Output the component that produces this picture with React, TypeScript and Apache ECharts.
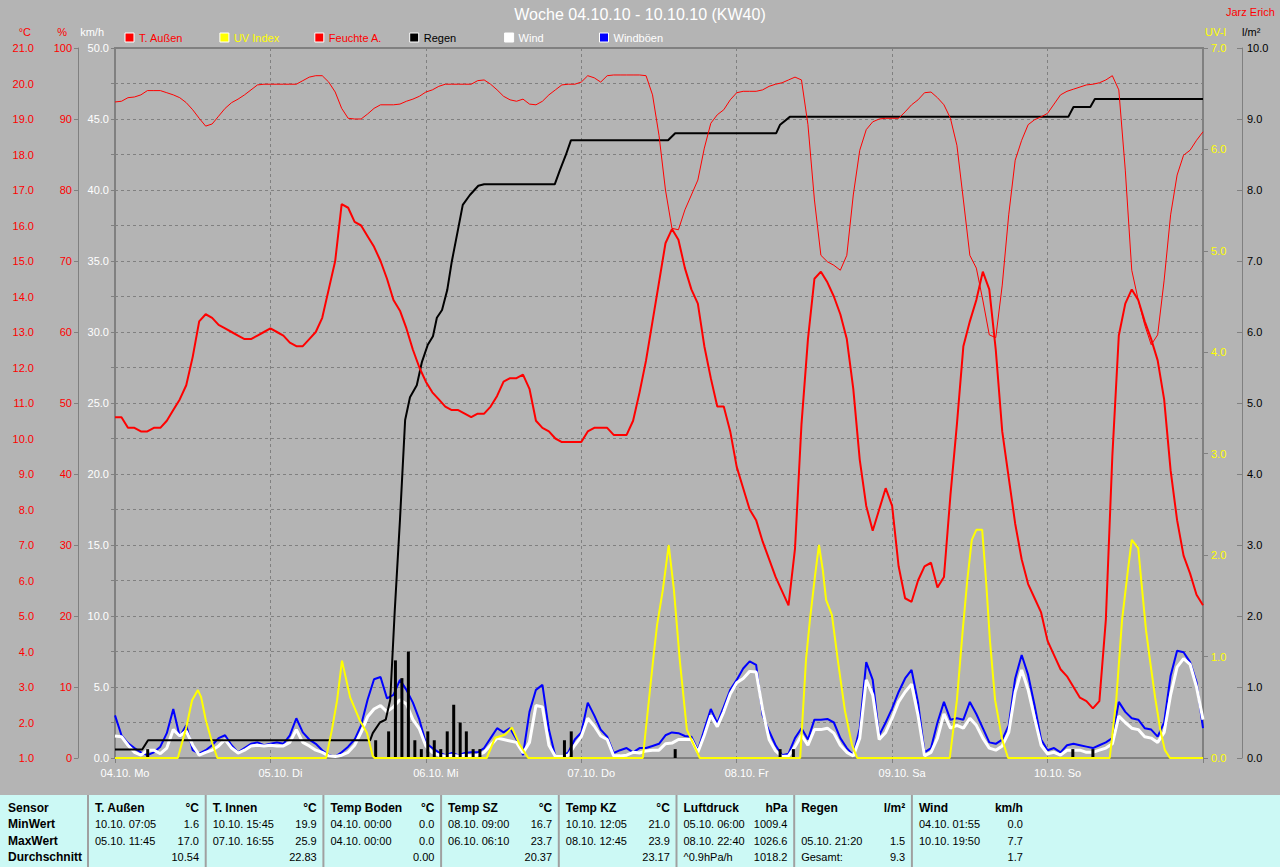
import { useEffect, useRef } from "react";
import * as echarts from "echarts";

// x axis: hours since 04.10. 00:00 (0 .. 168)
const dayLabels = ["04.10. Mo", "05.10. Di", "06.10. Mi", "07.10. Do", "08.10. Fr", "09.10. Sa", "10.10. So"];

// hourly values, h0 .. h168
const tempAussen = [
  10.6, 10.6, 10.3, 10.3, 10.2, 10.2, 10.3, 10.3, 10.5, 10.8, 11.1, 11.5, 12.3, 13.3, 13.5, 13.4, 13.2, 13.1, 13.0, 12.9, 12.8, 12.8, 12.9, 13.0,
  13.1, 13.0, 12.9, 12.7, 12.6, 12.6, 12.8, 13.0, 13.4, 14.2, 15.0, 16.6, 16.5, 16.1, 16.0, 15.7, 15.4, 15.0, 14.5, 13.9, 13.6, 13.1, 12.5, 12.0,
  11.6, 11.3, 11.1, 10.9, 10.8, 10.8, 10.7, 10.6, 10.7, 10.7, 10.9, 11.2, 11.6, 11.7, 11.7, 11.8, 11.4, 10.5, 10.3, 10.2, 10.0, 9.9, 9.9, 9.9,
  9.9, 10.2, 10.3, 10.3, 10.3, 10.1, 10.1, 10.1, 10.5, 11.3, 12.2, 13.3, 14.4, 15.5, 15.9, 15.6, 14.8, 14.2, 13.8, 12.6, 11.7, 10.9, 10.9, 10.2,
  9.2, 8.6, 8.0, 7.7, 7.1, 6.6, 6.1, 5.7, 5.3, 6.9, 10.4, 12.8, 14.5, 14.7, 14.4, 14.0, 13.5, 12.8, 11.4, 9.4, 8.1, 7.4, 8.0, 8.6,
  8.1, 6.4, 5.5, 5.4, 6.0, 6.4, 6.5, 5.8, 6.1, 8.4, 10.4, 12.6, 13.3, 13.9, 14.7, 14.2, 12.5, 10.2, 8.9, 7.6, 6.6, 5.9, 5.5, 5.1,
  4.3, 3.9, 3.5, 3.3, 3.0, 2.7, 2.6, 2.4, 2.6, 4.9, 9.5, 12.9, 13.8, 14.2, 13.9, 13.3, 12.8, 12.2, 11.1, 9.1, 7.7, 6.7, 6.2, 5.6,
  5.3,
];

const feuchteAussen = [
  92.4, 92.5, 93.0, 93.1, 93.4, 94.0, 94.0, 94.0, 93.7, 93.4, 93.0, 92.3, 91.3, 90.1, 89.0, 89.3, 90.4, 91.5, 92.3, 92.8, 93.4, 94.1, 94.8, 94.9,
  94.9, 94.9, 94.9, 94.9, 94.9, 95.4, 95.9, 96.1, 96.1, 95.2, 93.8, 91.5, 90.1, 90.0, 90.0, 90.7, 91.5, 92.0, 92.0, 92.0, 92.1, 92.5, 92.8, 93.2,
  93.8, 94.1, 94.6, 94.9, 94.9, 94.9, 94.9, 94.9, 95.4, 95.5, 94.9, 94.1, 93.2, 92.7, 92.5, 92.8, 92.1, 92.0, 92.5, 93.4, 94.1, 94.8, 94.9, 94.9,
  95.2, 96.1, 95.8, 95.2, 96.1, 96.2, 96.2, 96.2, 96.2, 96.2, 96.1, 93.4, 87.7, 80.0, 74.6, 74.4, 77.2, 79.3, 81.4, 85.9, 89.4, 90.6, 91.3, 92.7,
  93.7, 93.9, 93.9, 93.9, 94.1, 94.6, 94.9, 95.1, 95.5, 95.9, 95.5, 89.2, 78.6, 70.8, 69.9, 69.4, 68.7, 70.8, 79.3, 85.6, 88.5, 89.6, 90.0, 90.1,
  90.1, 90.1, 91.0, 92.0, 92.7, 93.7, 93.8, 93.0, 92.0, 90.1, 86.3, 78.6, 70.8, 69.0, 64.5, 59.6, 59.2, 66.6, 76.5, 84.2, 87.0, 89.2, 89.9, 90.3,
  90.8, 92.1, 93.4, 93.9, 94.2, 94.5, 94.8, 94.9, 95.1, 95.5, 96.1, 94.1, 82.8, 68.7, 64.5, 61.0, 58.2, 59.6, 67.3, 76.5, 82.1, 84.9, 85.6, 87.0,
  88.2,
];

const wind = [
  1.55, 1.5, 0.9, 0.4, 0.2, 0.55, 0.55, 0.3, 0.7, 2.0, 1.55, 1.9, 0.9, 0.2, 0.4, 0.55, 0.85, 1.3, 0.7, 0.35, 0.55, 0.85, 0.9, 0.85,
  0.9, 0.85, 0.85, 1.1, 2.0, 1.1, 0.85, 0.55, 0.4, 0.15, 0.1, 0.2, 0.4, 0.9, 1.8, 2.9, 3.45, 3.7, 3.25, 3.6, 4.1, 3.8, 2.7, 2.05,
  0.85, 0.4, 0.2, 0.15, 0.2, 0.15, 0.2, 0.15, 0.2, 0.4, 0.9, 1.4, 1.3, 1.2, 1.1, 0.35, 1.1, 3.7, 3.6, 0.9, 0.1, 0.1, 0.2, 0.9,
  1.5, 2.8, 2.25, 1.55, 1.3, 0.15, 0.15, 0.2, 0.4, 0.35, 0.5, 0.55, 0.55, 1.0, 1.05, 1.3, 1.3, 1.3, 0.4, 1.6, 3.0, 2.2, 3.25, 4.5,
  5.3, 5.6, 6.1, 6.05, 3.4, 1.3, 0.5, 0.1, 0.15, 0.8, 1.6, 0.9, 2.0, 2.0, 2.1, 1.75, 0.9, 0.4, 0.15, 1.4, 5.5, 4.45, 1.3, 1.8,
  2.8, 3.95, 4.65, 5.2, 3.0, 0.15, 0.4, 1.4, 3.1, 2.1, 2.3, 2.1, 2.8, 2.3, 1.4, 0.7, 0.55, 0.85, 1.8, 4.65, 6.2, 4.8, 2.8, 0.9,
  0.3, 0.4, 0.2, 0.55, 0.55, 0.55, 0.4, 0.4, 0.55, 0.7, 1.0, 2.95, 2.5, 2.1, 2.0, 1.5, 1.4, 1.1, 1.8, 4.45, 6.4, 7.0, 6.6, 5.0,
  2.7,
];

const windboeen = [
  3.0, 1.6, 1.05, 0.7, 0.4, 0.2, 0.4, 0.8, 1.75, 3.45, 1.5, 2.3, 0.55, 0.3, 0.55, 0.9, 1.4, 1.6, 0.9, 0.4, 0.7, 1.0, 1.1, 0.9,
  1.0, 1.1, 1.0, 1.6, 2.8, 1.8, 1.3, 1.0, 0.55, 0.2, 0.1, 0.4, 0.8, 1.3, 2.3, 4.1, 5.55, 5.7, 4.2, 4.45, 5.5, 4.8, 3.9, 2.7,
  1.05, 0.7, 0.4, 0.2, 0.35, 0.2, 0.35, 0.4, 0.4, 0.7, 1.4, 2.1, 1.8, 2.1, 1.3, 0.2, 3.25, 4.8, 5.15, 2.0, 0.1, 0.1, 0.4, 1.3,
  1.8, 3.9, 3.0, 2.0, 1.5, 0.35, 0.55, 0.7, 0.4, 0.7, 0.7, 0.85, 1.0, 1.6, 1.8, 1.75, 1.55, 1.5, 0.55, 2.0, 3.45, 2.45, 3.6, 4.8,
  5.5, 6.3, 6.8, 6.55, 3.0, 1.9, 0.9, 0.2, 0.3, 1.4, 2.1, 1.3, 2.7, 2.7, 2.75, 2.5, 1.4, 0.7, 0.2, 2.1, 6.75, 5.5, 1.6, 2.5,
  3.5, 4.65, 5.6, 6.2, 3.9, 0.4, 0.7, 2.5, 3.95, 2.7, 2.8, 2.7, 3.95, 3.1, 2.1, 1.1, 1.0, 1.3, 2.3, 5.6, 7.25, 5.85, 3.7, 1.3,
  0.55, 0.7, 0.4, 0.9, 1.0, 0.9, 0.8, 0.7, 0.9, 1.1, 1.4, 3.95, 3.25, 2.8, 2.7, 2.1, 2.0, 1.5, 2.5, 5.8, 7.55, 7.45, 6.75, 5.35,
  2.1,
];

// [hour, UV index]
const uvIndex = [
  [0, 0], [9.7, 0], [11, 0.3], [11.9, 0.57], [12.8, 0.67], [13.3, 0.6], [14, 0.38], [15, 0.15], [15.8, 0],
  [32.6, 0], [33.5, 0.28], [34.3, 0.57], [35.05, 0.96], [36.3, 0.6], [37.8, 0.37], [38.9, 0.25], [39.8, 0.02], [40.1, 0],
  [57.4, 0], [58.7, 0.2], [60.2, 0.23], [61.3, 0.3], [62.5, 0.13], [63.8, 0],
  [81.5, 0], [83.1, 0.97], [83.7, 1.31], [84.6, 1.66], [85.5, 2.1], [86.3, 1.66], [87.2, 0.97], [88.3, 0.28], [90.3, 0],
  [105.8, 0], [106.7, 0.97], [107.3, 1.36], [108.1, 1.8], [108.7, 2.1], [109.3, 1.85], [109.8, 1.56], [110.7, 1.41], [111.6, 0.97], [112.7, 0.47], [113.8, 0.13], [114.6, 0],
  [128.9, 0], [130.0, 0.57], [130.9, 1.26], [131.6, 1.75], [132.3, 2.15], [133.0, 2.25], [133.9, 2.25], [134.5, 1.75], [135.1, 1.16], [135.9, 0.57], [137.0, 0.18], [137.9, 0],
  [153.6, 0], [154.6, 0.57], [155.5, 1.36], [156.4, 1.85], [157.0, 2.15], [158.0, 2.07], [158.6, 1.66], [159.2, 1.26], [159.8, 0.97], [160.6, 0.6], [161.4, 0.28], [162.1, 0.08], [162.9, 0], [168, 0],
];

// hourly rain amounts [hour, l/m²]
const regenStunde = [
  [5.05, 0.125], [40.25, 0.25], [42.25, 0.375], [43.3, 1.375], [44.3, 1.125], [45.3, 1.5], [46.3, 0.25], [47.3, 0.125],
  [48.3, 0.375], [49.3, 0.25], [50.3, 0.125], [51.3, 0.375], [52.3, 0.75], [53.3, 0.5], [54.25, 0.375], [55.3, 0.125],
  [56.35, 0.125], [69.4, 0.25], [70.45, 0.375], [86.5, 0.125], [102.7, 0.125], [104.75, 0.125], [147.9, 0.125], [151.0, 0.125],
];

// cumulative rain [hour, l/m²]
const regenSumme = [
  [0, 0.12], [4.2, 0.12], [5.1, 0.25], [39.4, 0.25], [39.8, 0.35], [40.9, 0.5], [41.8, 0.54], [42.5, 0.82], [43.2, 2.08],
  [44.0, 3.35], [44.8, 4.76], [45.55, 5.08], [46.6, 5.25], [47.4, 5.58], [48.3, 5.82], [49.1, 5.94], [49.7, 6.2], [50.5, 6.31],
  [51.3, 6.59], [52.0, 6.99], [53.0, 7.46], [53.7, 7.79], [54.8, 7.93], [56.1, 8.06], [57.0, 8.08], [67.9, 8.08], [68.7, 8.28],
  [69.6, 8.49], [70.4, 8.7], [85.4, 8.7], [86.5, 8.8], [102.1, 8.8], [102.7, 8.92], [104.2, 9.03], [147.2, 9.03], [148.0, 9.17],
  [150.6, 9.17], [151.3, 9.28], [168, 9.28],
];

const legendItems = [
  { name: "T. Außen", fill: "#ff0000", text: "#ff0000" },
  { name: "UV Index", fill: "#ffff00", text: "#ffff00" },
  { name: "Feuchte A.", fill: "#ff0000", text: "#ff0000" },
  { name: "Regen", fill: "#000000", text: "#000000" },
  { name: "Wind", fill: "#ffffff", text: "#ffffff" },
  { name: "Windböen", fill: "#0000ff", text: "#ffffff" },
];

// axis titles: [text, colour, anchor x, alignment]
const axisTitles = [
  { text: "°C", color: "#ff0000", x: 31, align: "right" },
  { text: "%", color: "#ff0000", x: 67, align: "right" },
  { text: "km/h", color: "#ffffff", x: 104, align: "right" },
  { text: "UV-I", color: "#ffff00", x: 1205, align: "left" },
  { text: "l/m²", color: "#000000", x: 1242, align: "left" },
];

const tableRowHeads = ["Sensor", "MinWert", "MaxWert", "Durchschnitt"];
const tableHeaders = ["T. Außen", "T. Innen", "Temp Boden", "Temp SZ", "Temp KZ", "Luftdruck", "Regen", "Wind"];
const tableUnits = ["°C", "°C", "°C", "°C", "°C", "hPa", "l/m²", "km/h"];
const minTimes = ["10.10. 07:05", "10.10. 15:45", "04.10. 00:00", "08.10. 09:00", "10.10. 12:05", "05.10. 06:00", "", "04.10. 01:55"];
const minValues = ["1.6", "19.9", "0.0", "16.7", "21.0", "1009.4", "", "0.0"];
const maxTimes = ["05.10. 11:45", "07.10. 16:55", "04.10. 00:00", "06.10. 06:10", "08.10. 12:45", "08.10. 22:40", "05.10. 21:20", "10.10. 19:50"];
const maxValues = ["17.0", "25.9", "0.0", "23.7", "23.9", "1026.6", "1.5", "7.7"];
const avgLabels = ["", "", "", "", "", "^0.9hPa/h", "Gesamt:", ""];
const avgValues = ["10.54", "22.83", "0.00", "20.37", "23.17", "1018.2", "9.3", "1.7"];

const FONT = "'Liberation Sans', Arial, sans-serif";
const GRID_COLOR = "#808080";

function buildGraphics() {
  const g: any[] = [];
  g.push({
    type: "text", left: "center", top: 6,
    style: { text: "Woche 04.10.10 - 10.10.10 (KW40)", fill: "#ffffff", font: `16px ${FONT}` },
  });
  g.push({
    type: "text", x: 1226, y: 12,
    style: { text: "Jarz Erich", fill: "#ff0000", font: `11px ${FONT}`, verticalAlign: "middle" },
  });
  axisTitles.forEach((a) => {
    g.push({
      type: "text", x: a.x, y: 32,
      style: { text: a.text, fill: a.color, font: `11px ${FONT}`, align: a.align, verticalAlign: "middle" },
    });
  });
  legendItems.forEach((it, i) => {
    const x = 125 + i * 94.9;
    g.push({ type: "rect", shape: { x: x, y: 33, width: 9, height: 9 }, style: { fill: it.fill, stroke: "#ffffff", lineWidth: 1 } });
    g.push({ type: "text", x: x + 14, y: 38, style: { text: it.name, fill: it.text, font: `11px ${FONT}`, verticalAlign: "middle" } });
  });
  // statistics table
  g.push({ type: "rect", shape: { x: 0, y: 795, width: 1280, height: 72 }, style: { fill: "#ccf9f5" } });
  const rowY = [808, 824, 840.5, 856.5];
  tableRowHeads.forEach((t, r) => {
    g.push({ type: "text", x: 8, y: rowY[r], style: { text: t, fill: "#000", font: `bold 12px ${FONT}`, verticalAlign: "middle" } });
  });
  tableHeaders.forEach((h, c) => {
    const sep = 88 + c * 117.7;
    g.push({ type: "rect", shape: { x: sep - 1, y: 795, width: 2, height: 72 }, style: { fill: "#a0a0a0" } });
    const lx = sep + 7;
    const rx = sep + 111;
    const add = (text: string, x: number, y: number, bold: boolean, align: string) => {
      if (!text) return;
      g.push({
        type: "text", x, y,
        style: { text, fill: "#000", font: bold ? `bold 12px ${FONT}` : `11px ${FONT}`, verticalAlign: "middle", align },
      });
    };
    add(h, lx, rowY[0], true, "left");
    add(tableUnits[c], rx, rowY[0], true, "right");
    add(minTimes[c], lx, rowY[1], false, "left");
    add(minValues[c], rx, rowY[1], false, "right");
    add(maxTimes[c], lx, rowY[2], false, "left");
    add(maxValues[c], rx, rowY[2], false, "right");
    add(avgLabels[c], lx, rowY[3], false, "left");
    add(avgValues[c], rx, rowY[3], false, "right");
  });
  return g;
}

const hourly = (arr: number[]) => arr.map((v, i) => [i, v]);

export default function App() {
  const ref = useRef<HTMLDivElement>(null);
  useEffect(() => {
    if (!ref.current) return;
    const chart = echarts.init(ref.current, undefined, { renderer: "svg" });
    const label = (color: string, digits: number, margin: number) => ({
      color, fontSize: 11, fontFamily: FONT, margin,
      formatter: (v: number) => v.toFixed(digits),
    });
    chart.setOption({
      animation: false,
      backgroundColor: "#b4b4b4",
      textStyle: { fontFamily: FONT },
      grid: { left: 115, right: 77, top: 48, bottom: 109, show: true, borderColor: GRID_COLOR, borderWidth: 2, containLabel: false },
      xAxis: {
        type: "value", min: 0, max: 168, interval: 24,
        axisLine: { show: true, lineStyle: { color: GRID_COLOR, width: 2 } },
        axisTick: { show: true, length: 5, lineStyle: { color: GRID_COLOR } },
        splitLine: { show: true, lineStyle: { color: GRID_COLOR, type: [3, 3], width: 1 } },
        axisLabel: {
          color: "#ffffff", fontSize: 11, fontFamily: FONT, margin: 9, padding: [0, 0, 0, 20],
          formatter: (v: number) => dayLabels[Math.round(v / 24)] ?? "",
        },
      },
      yAxis: [
        {
          type: "value", position: "left", offset: 75, min: 1, max: 21, interval: 1,
          axisLine: { show: true, lineStyle: { color: GRID_COLOR, width: 1 } },
          axisTick: { show: true, length: 4, lineStyle: { color: GRID_COLOR } },
          axisLabel: label("#ff0000", 1, 6),
          splitLine: { show: true, lineStyle: { color: GRID_COLOR, type: [3, 3], width: 1 } },
        },
        {
          type: "value", position: "left", offset: 37, min: 0, max: 100, interval: 10,
          axisLine: { show: true, lineStyle: { color: GRID_COLOR, width: 1 } },
          axisTick: { show: true, length: 4, lineStyle: { color: GRID_COLOR } },
          axisLabel: label("#ff0000", 0, 6),
          splitLine: { show: false },
        },
        {
          type: "value", position: "left", offset: 0, min: 0, max: 50, interval: 5,
          axisLine: { show: false },
          axisTick: { show: true, length: 4, lineStyle: { color: GRID_COLOR } },
          axisLabel: label("#ffffff", 1, 6),
          splitLine: { show: false },
        },
        {
          type: "value", position: "right", offset: 0, min: 0, max: 7, interval: 1,
          axisLine: { show: false },
          axisTick: { show: true, length: 5, lineStyle: { color: GRID_COLOR } },
          axisLabel: label("#ffff00", 1, 8),
          splitLine: { show: false },
        },
        {
          type: "value", position: "right", offset: 39, min: 0, max: 10, interval: 1,
          axisLine: { show: true, lineStyle: { color: GRID_COLOR, width: 1 } },
          axisTick: { show: true, inside: true, length: 5, lineStyle: { color: GRID_COLOR } },
          axisLabel: label("#000000", 1, 5),
          splitLine: { show: false },
        },
      ],
      series: [
        {
          name: "Windböen", type: "line", yAxisIndex: 2, data: hourly(windboeen), showSymbol: false, z: 2,
          lineStyle: { color: "#0000ff", width: 2 }, itemStyle: { color: "#0000ff" },
        },
        {
          name: "Wind", type: "line", yAxisIndex: 2, data: hourly(wind), showSymbol: false, z: 3,
          lineStyle: { color: "#ffffff", width: 3 }, itemStyle: { color: "#ffffff" },
        },
        {
          name: "Regen", type: "bar", yAxisIndex: 4, data: regenStunde, barWidth: 3, z: 4,
          itemStyle: { color: "#000000" },
        },
        {
          name: "Regen Summe", type: "line", yAxisIndex: 4, data: regenSumme, showSymbol: false, z: 5,
          lineStyle: { color: "#000000", width: 2 }, itemStyle: { color: "#000000" },
        },
        {
          name: "UV Index", type: "line", yAxisIndex: 3, data: uvIndex, showSymbol: false, z: 6,
          lineStyle: { color: "#ffff00", width: 2 }, itemStyle: { color: "#ffff00" },
        },
        {
          name: "Feuchte A.", type: "line", yAxisIndex: 1, data: hourly(feuchteAussen), showSymbol: false, z: 7,
          lineStyle: { color: "#ff0000", width: 1 }, itemStyle: { color: "#ff0000" },
        },
        {
          name: "T. Außen", type: "line", yAxisIndex: 0, data: hourly(tempAussen), showSymbol: false, z: 8,
          lineStyle: { color: "#ff0000", width: 2 }, itemStyle: { color: "#ff0000" },
        },
      ],
      graphic: buildGraphics(),
    });
    return () => chart.dispose();
  }, []);
  return <div ref={ref} style={{ position: "absolute", left: 0, top: 0, width: 1280, height: 867 }} />;
}
